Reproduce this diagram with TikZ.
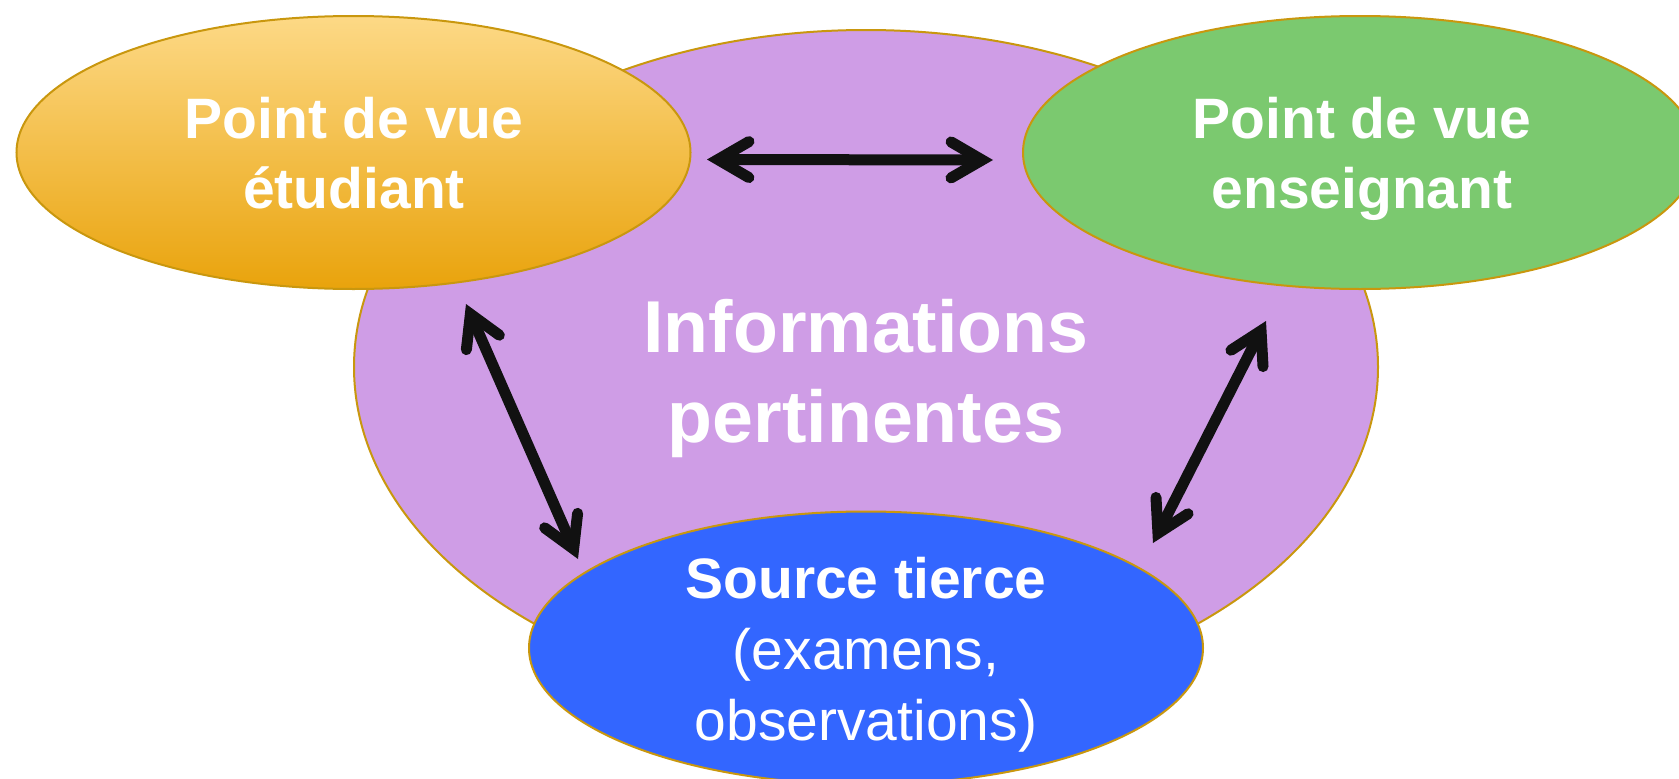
\documentclass[tikz,border=0pt]{standalone}
\usepackage{fontspec}
\setmainfont{Liberation Sans}
\usetikzlibrary{shapes.geometric,arrows.meta}
\definecolor{purplefill}{HTML}{CF9DE6}
\definecolor{greenfill}{HTML}{7BC96F}
\definecolor{bluefill}{HTML}{3366FF}
\definecolor{orangetop}{HTML}{FDD986}
\definecolor{orangebot}{HTML}{E9A30C}
\definecolor{goldline}{HTML}{C9970E}
\definecolor{arrowblack}{HTML}{111111}
\tikzset{
  blob/.style={ellipse, draw=goldline, line width=2pt, inner sep=0pt},
  smallblob/.style={blob, minimum width=674pt, minimum height=273pt},
  label/.style={text=white, align=center, anchor=base, inner sep=0pt},
  smalltext/.style={label, font=\fontsize{57}{70}\selectfont},
  boldsmalltext/.style={label, font=\fontsize{57}{70}\selectfont\bfseries},
  bigtext/.style={label, font=\fontsize{73.5}{90}\selectfont\bfseries},
  link/.style={draw=arrowblack, line width=11pt,
    {Straight Barb[length=31pt, width=36pt, line cap=round, line join=miter]}-{Straight Barb[length=31pt, width=36pt, line cap=round, line join=miter]}}
}
\begin{document}
\begin{tikzpicture}[x=1pt,y=-1pt]
\useasboundingbox (0,0) rectangle (1679,779);
\node[blob, fill=purplefill, minimum width=1024pt, minimum height=674pt] (info) at (866,367) {};
\node[smallblob, top color=orangetop, bottom color=orangebot] (etu) at (353.5,152.5) {};
\node[smallblob, fill=greenfill] (ens) at (1360,152.5) {};
\node[smallblob, fill=bluefill] (src) at (866,648) {};
\node[boldsmalltext] (etutxt) at (354,208) {Point de vue\\étudiant};
\node[boldsmalltext] (enstxt) at (1362,208) {Point de vue\\enseignant};
\node[bigtext] (infotxt) at (866,442) {Informations\\pertinentes};
\node[smalltext, font=\fontsize{57}{71}\selectfont] (srctxt) at (866,740) {\textbf{Source tierce}\\(examens,\\observations)};
\coordinate (hA) at (707,159.5);
\coordinate (hB) at (993,160);
\coordinate (lA) at (466,304);
\coordinate (lB) at (578,559);
\coordinate (rA) at (1266,321);
\coordinate (rB) at (1153,543);
\draw[link] (hA) -- (hB);
\draw[link] (lA) -- (lB);
\draw[link] (rA) -- (rB);
\end{tikzpicture}
\end{document}
